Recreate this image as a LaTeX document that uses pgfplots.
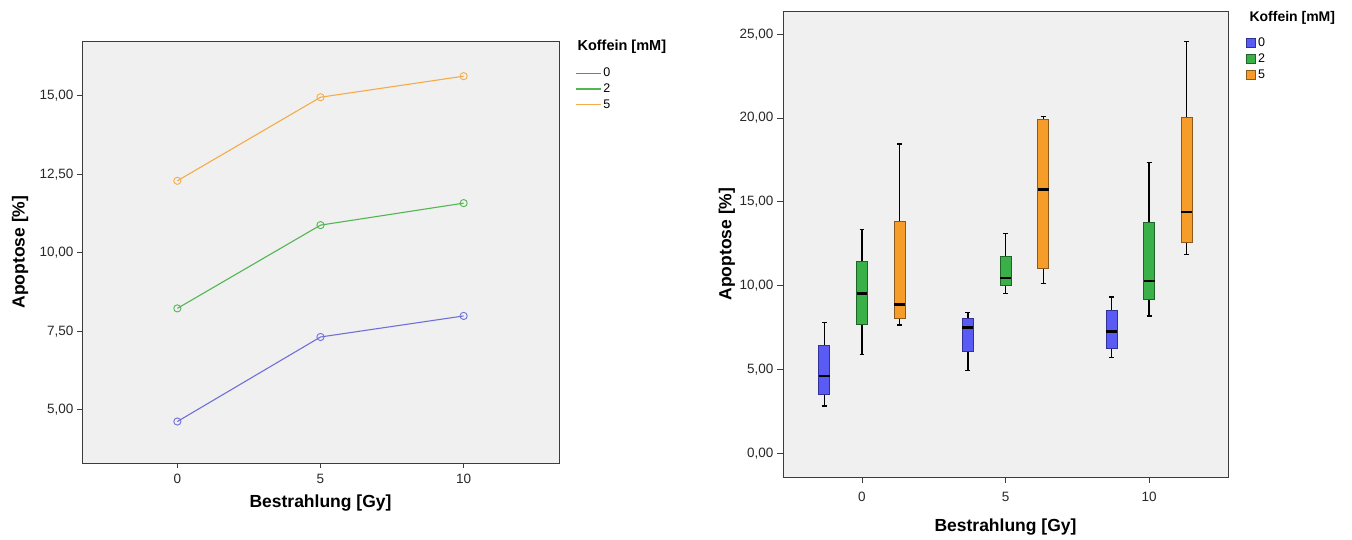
\documentclass[border=0pt]{standalone}
\usepackage{fontspec}
\setmainfont{Liberation Sans}
\usepackage{pgfplots}
\pgfplotsset{compat=1.18}
\usepgfplotslibrary{statistics}
\definecolor{bg}{RGB}{240,240,240}
\definecolor{axisgray}{RGB}{60,60,60}
\definecolor{labgray}{RGB}{40,40,40}
\definecolor{lblue}{RGB}{112,112,216}
\definecolor{lgreen}{RGB}{82,182,82}
\definecolor{lorange}{RGB}{245,172,72}
\definecolor{bblue}{RGB}{90,90,245}
\definecolor{bblueedge}{RGB}{50,50,150}
\definecolor{bgreen}{RGB}{58,176,72}
\definecolor{bgreenedge}{RGB}{30,100,40}
\definecolor{borange}{RGB}{245,157,40}
\definecolor{borangeedge}{RGB}{140,90,30}
\pgfplotsset{
  spss/.style={
    scale only axis,
    clip=false,
    axis background/.style={fill=bg},
    axis line style={draw=axisgray, line width=0.9pt},
    tick align=outside,
    tick pos=left,
    major tick length=5pt,
    tick style={draw=axisgray, line width=0.9pt},
    tick label style={font=\fontsize{13.5}{15}\selectfont, text=labgray},
    /pgf/number format/assume math mode=true,
    y tick label style={/pgf/number format/.cd, fixed, fixed zerofill, precision=2, use comma},
    label style={font=\bfseries\fontsize{17.5}{20}\selectfont, text=black},
  }
}
\begin{document}
\begin{tikzpicture}
\useasboundingbox (0pt,0pt) rectangle (1352pt,540pt);
\fill[white] (0pt,0pt) rectangle (1352pt,540pt);

% ---------------- left: line chart ----------------
\begin{axis}[spss,
  at={(82pt,77pt)}, anchor=south west,
  width=477pt, height=422pt,
  xmin=-3.33, xmax=13.33, ymin=3.31, ymax=16.74,
  xtick={0,5,10}, ytick={5,7.5,10,12.5,15},
  x tick label style={yshift=-3pt},
  xlabel={Bestrahlung [Gy]}, ylabel={Apoptose [\%]},
  xlabel style={at={(axis description cs:0.5,-0.095)}, anchor=center},
  ylabel style={at={(axis description cs:-0.130,0.5)}, anchor=center},
  legend style={at={(1,1)}, anchor=north west, xshift=13pt, yshift=-23pt,
    draw=none, fill=none, font=\fontsize{12.5}{14}\selectfont, row sep=1.5pt},
  legend cell align=left,
  legend image code/.code={\draw[#1,mark=none] (0pt,0pt) -- (25pt,0pt);},
]
\addplot[color=lblue, line width=1.1pt, mark=o, mark size=3.6pt, mark options={line width=0.9pt}]
  coordinates {(0,4.63) (5,7.32) (10,7.99)};
\addlegendentry{0}
\addplot[color=lgreen, line width=1.1pt, mark=o, mark size=3.6pt, mark options={line width=0.9pt}]
  coordinates {(0,8.23) (5,10.88) (10,11.58)};
\addlegendentry{2}
\addplot[color=lorange, line width=1.1pt, mark=o, mark size=3.6pt, mark options={line width=0.9pt}]
  coordinates {(0,12.29) (5,14.95) (10,15.62)};
\addlegendentry{5}
\node[anchor=base west, xshift=15pt, yshift=-10pt, font=\bfseries\fontsize{14.5}{16}\selectfont]
  at (rel axis cs:1,1) {Koffein [mM]};
\end{axis}

% ---------------- right: box plots ----------------
\begin{axis}[spss,
  at={(783pt,63pt)}, anchor=south west,
  width=445pt, height=466pt,
  xmin=-2.75, xmax=12.75, ymin=-1.41, ymax=26.39,
  xtick={0,5,10}, ytick={0,5,10,15,20,25},
  x tick label style={yshift=-6pt},
  major tick length=6pt,
  xlabel={Bestrahlung [Gy]}, ylabel={Apoptose [\%]},
  xlabel style={at={(axis description cs:0.5,-0.107)}, anchor=center},
  ylabel style={at={(axis description cs:-0.126,0.5)}, anchor=center},
  legend style={at={(1,1)}, anchor=north west, xshift=15pt, yshift=-23pt,
    draw=none, fill=none, font=\fontsize{12.5}{14}\selectfont, row sep=1.5pt},
  legend cell align=left,
  legend image code/.code={\draw[#1] (0pt,-4.5pt) rectangle (9pt,4.5pt);},
  boxplot/draw direction=y,
  boxplot/every median/.style={draw=black, line width=2.4pt},
  boxplot/every whisker/.style={draw=black, line width=1.2pt},
]
% group 0 Gy
\addplot[forget plot, fill=bblue, draw=bblueedge, line width=0.8pt,
  boxplot prepared={draw position=-1.31, lower whisker=2.83, lower quartile=3.51,
    median=4.61, upper quartile=6.42, upper whisker=7.81, box extend=0.38, whisker extend=0.17}]
  coordinates {};
\addplot[forget plot, fill=bgreen, draw=bgreenedge, line width=0.8pt,
  boxplot prepared={draw position=0, lower whisker=5.92, lower quartile=7.72,
    median=9.54, upper quartile=11.45, upper whisker=13.35, box extend=0.38, whisker extend=0.17}]
  coordinates {};
\addplot[forget plot, fill=borange, draw=borangeedge, line width=0.8pt,
  boxplot prepared={draw position=1.31, lower whisker=7.66, lower quartile=8.07,
    median=8.88, upper quartile=13.83, upper whisker=18.45, box extend=0.38, whisker extend=0.17}]
  coordinates {};
% group 5 Gy
\addplot[forget plot, fill=bblue, draw=bblueedge, line width=0.8pt,
  boxplot prepared={draw position=3.69, lower whisker=4.96, lower quartile=6.10,
    median=7.52, upper quartile=8.08, upper whisker=8.39, box extend=0.38, whisker extend=0.17}]
  coordinates {};
\addplot[forget plot, fill=bgreen, draw=bgreenedge, line width=0.8pt,
  boxplot prepared={draw position=5, lower whisker=9.54, lower quartile=10.01,
    median=10.47, upper quartile=11.77, upper whisker=13.10, box extend=0.38, whisker extend=0.17}]
  coordinates {};
\addplot[forget plot, fill=borange, draw=borangeedge, line width=0.8pt,
  boxplot prepared={draw position=6.31, lower whisker=10.14, lower quartile=11.04,
    median=15.75, upper quartile=19.90, upper whisker=20.09, box extend=0.38, whisker extend=0.17}]
  coordinates {};
% group 10 Gy
\addplot[forget plot, fill=bblue, draw=bblueedge, line width=0.8pt,
  boxplot prepared={draw position=8.69, lower whisker=5.70, lower quartile=6.27,
    median=7.27, upper quartile=8.51, upper whisker=9.33, box extend=0.38, whisker extend=0.17}]
  coordinates {};
\addplot[forget plot, fill=bgreen, draw=bgreenedge, line width=0.8pt,
  boxplot prepared={draw position=10, lower whisker=8.20, lower quartile=9.21,
    median=10.27, upper quartile=13.77, upper whisker=17.33, box extend=0.38, whisker extend=0.17}]
  coordinates {};
\addplot[forget plot, fill=borange, draw=borangeedge, line width=0.8pt,
  boxplot prepared={draw position=11.31, lower whisker=11.85, lower quartile=12.58,
    median=14.41, upper quartile=20.04, upper whisker=24.56, box extend=0.38, whisker extend=0.17}]
  coordinates {};
\addlegendimage{fill=bblue, draw=bblueedge, line width=0.8pt}
\addlegendentry{0}
\addlegendimage{fill=bgreen, draw=bgreenedge, line width=0.8pt}
\addlegendentry{2}
\addlegendimage{fill=borange, draw=borangeedge, line width=0.8pt}
\addlegendentry{5}
\node[anchor=base west, xshift=18pt, yshift=-11pt, font=\bfseries\fontsize{14}{16}\selectfont]
  at (rel axis cs:1,1) {Koffein [mM]};
\end{axis}
\end{tikzpicture}
\end{document}
